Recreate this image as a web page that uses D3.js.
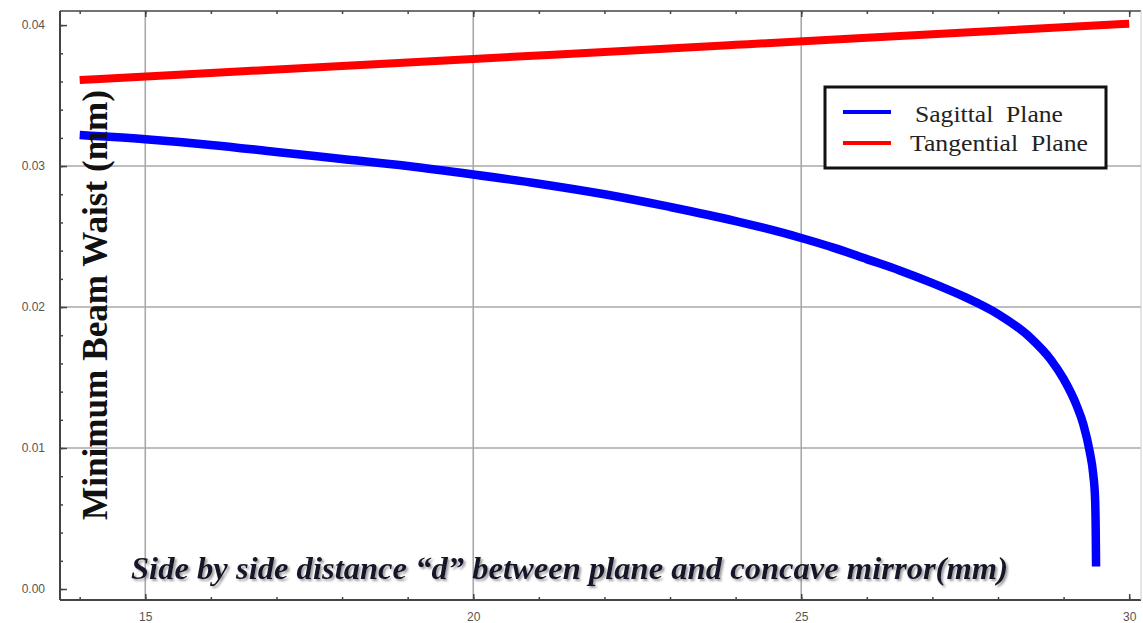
<!DOCTYPE html>
<html>
<head>
<meta charset="utf-8">
<script src="https://cdnjs.cloudflare.com/ajax/libs/d3/7.8.5/d3.min.js"></script>
<style>
  html, body { margin: 0; padding: 0; background: #fff; }
  svg { display: block; }
</style>
</head>
<body>
<svg id="chart" width="1143" height="623"></svg>
<script>
// values
const sagittalX = [14, 15, 16, 17, 18, 19, 20, 21, 22, 23, 24, 25, 25.5, 26, 26.5, 27, 27.5, 28, 28.5, 28.8, 29.0, 29.2, 29.3, 29.4, 29.45, 29.48, 29.49, 29.495]
const sagittalY = [0.0322, 0.0319, 0.0315, 0.0310, 0.0305, 0.0300, 0.0294, 0.02875, 0.0280, 0.0271, 0.0261, 0.0249, 0.0242, 0.0234, 0.0226, 0.0217, 0.0207, 0.0195, 0.0178, 0.0163, 0.0149, 0.0130, 0.0117, 0.0097, 0.0082, 0.0064, 0.0040, 0.0016]

const tangentialX = [14, 16, 18, 20, 22, 24, 26, 28, 30]
const tangentialY = [0.0361, 0.0366, 0.0371, 0.0376, 0.0381, 0.0386, 0.0391, 0.0396, 0.0401]

const xTicks = [15, 20, 25, 30]
const yTicks = [0.00, 0.01, 0.02, 0.03, 0.04]
const xGrid = [15, 20, 25]
const yGrid = [0.01, 0.02, 0.03]

const legendLabels = ['Sagittal  Plane', 'Tangential  Plane']
const seriesColors = ['#0000ff', '#ff0000']

const xTitle = 'Side by side distance \u201cd\u201d between plane and concave mirror(mm)'
const yTitle = 'Minimum Beam Waist (mm)'

const svg = d3.select('svg#chart')

const plot = { left: 60, right: 1141, top: 11, bottom: 600 }

const x = d3.scaleLinear().domain([13.70, 30.18]).range([plot.left, plot.right])
const y = d3.scaleLinear().domain([-0.00078, 0.041]).range([plot.bottom, plot.top])

const defs = svg.append('defs')
const shadow = defs.append('filter').attr('id', 'shadow')
  .attr('x', '-5%').attr('y', '-30%').attr('width', '110%').attr('height', '160%')
shadow.append('feDropShadow')
  .attr('dx', 2).attr('dy', 2).attr('stdDeviation', 1.2)
  .attr('flood-color', '#777').attr('flood-opacity', 0.7)

// grid
svg.append('g').selectAll('line').data(xGrid).enter().append('line')
  .attr('x1', d => x(d)).attr('x2', d => x(d))
  .attr('y1', plot.top).attr('y2', plot.bottom)
  .attr('stroke', '#a8a8a8').attr('stroke-width', 1.6)

svg.append('g').selectAll('line').data(yGrid).enter().append('line')
  .attr('x1', plot.left).attr('x2', plot.right)
  .attr('y1', d => y(d)).attr('y2', d => y(d))
  .attr('stroke', '#a8a8a8').attr('stroke-width', 1.6)

// axes
const xMinor = d3.range(14, 31, 1)
const yMinor = d3.range(0, 0.0401, 0.002)

const styleAxis = g => {
  g.select('.domain').remove()
  g.selectAll('line').attr('stroke', '#444').attr('stroke-width', 1.5)
  g.selectAll('text').attr('fill', '#555')
    .style('font-family', 'Liberation Sans, Arial, sans-serif').style('font-size', '12px')
}

svg.append('g').attr('transform', `translate(0,${plot.bottom})`)
  .call(d3.axisBottom(x).tickValues(xMinor).tickSize(-3).tickFormat(''))
  .call(styleAxis)
svg.append('g').attr('transform', `translate(0,${plot.bottom})`)
  .call(d3.axisBottom(x).tickValues(xTicks).tickSize(-6).tickPadding(12).tickFormat(d3.format('d')))
  .call(styleAxis)

svg.append('g').attr('transform', `translate(0,${plot.top})`)
  .call(d3.axisTop(x).tickValues(xMinor).tickSize(-3).tickFormat(''))
  .call(styleAxis)
svg.append('g').attr('transform', `translate(0,${plot.top})`)
  .call(d3.axisTop(x).tickValues(xTicks).tickSize(-6).tickFormat(''))
  .call(styleAxis)

svg.append('g').attr('transform', `translate(${plot.left},0)`)
  .call(d3.axisLeft(y).tickValues(yMinor).tickSize(-3).tickFormat(''))
  .call(styleAxis)
svg.append('g').attr('transform', `translate(${plot.left},0)`)
  .call(d3.axisLeft(y).tickValues(yTicks).tickSize(-7).tickPadding(15).tickFormat(d3.format('.2f')))
  .call(styleAxis)

// frame
svg.append('line').attr('x1', plot.left).attr('x2', plot.left).attr('y1', plot.top).attr('y2', plot.bottom)
  .attr('stroke', '#444').attr('stroke-width', 2)
svg.append('line').attr('x1', plot.left).attr('x2', plot.right).attr('y1', plot.bottom).attr('y2', plot.bottom)
  .attr('stroke', '#444').attr('stroke-width', 2)
svg.append('line').attr('x1', plot.left).attr('x2', plot.right).attr('y1', plot.top).attr('y2', plot.top)
  .attr('stroke', '#444').attr('stroke-width', 1.5)
svg.append('line').attr('x1', plot.right).attr('x2', plot.right).attr('y1', plot.top).attr('y2', plot.bottom)
  .attr('stroke', '#ccc').attr('stroke-width', 1)

// series
const line = d3.line().x(d => x(d[0])).y(d => y(d[1])).curve(d3.curveMonotoneX)

svg.append('path')
  .datum(tangentialX.map((v, i) => [v, tangentialY[i]]))
  .attr('d', line)
  .attr('fill', 'none').attr('stroke', seriesColors[1]).attr('stroke-width', 8)

svg.append('path')
  .datum(sagittalX.map((v, i) => [v, sagittalY[i]]))
  .attr('d', line)
  .attr('fill', 'none').attr('stroke', seriesColors[0]).attr('stroke-width', 8.5)

// axis titles
svg.append('text')
  .attr('transform', 'translate(107,520) rotate(-90)')
  .attr('textLength', 430).attr('lengthAdjust', 'spacingAndGlyphs')
  .style('font-family', 'Liberation Serif, Times New Roman, serif')
  .style('font-weight', 'bold').style('font-size', '35px')
  .attr('fill', '#111')
  .text(yTitle)

svg.append('text')
  .attr('x', 131).attr('y', 579)
  .attr('textLength', 877).attr('lengthAdjust', 'spacingAndGlyphs')
  .attr('filter', 'url(#shadow)')
  .style('font-family', 'Liberation Serif, Times New Roman, serif')
  .style('font-weight', 'bold').style('font-style', 'italic').style('font-size', '32px')
  .attr('fill', '#15152a')
  .text(xTitle)

// legend
const legend = svg.append('g')
legend.append('rect')
  .attr('x', 825).attr('y', 87).attr('width', 281).attr('height', 81)
  .attr('fill', '#fff').attr('stroke', '#111').attr('stroke-width', 3)

const rows = legend.selectAll('g.row').data(legendLabels).enter().append('g')
  .attr('class', 'row')
  .attr('transform', (d, i) => `translate(0,${112 + i * 31})`)

rows.append('line')
  .attr('x1', 843).attr('x2', 891).attr('y1', 0).attr('y2', 0)
  .attr('stroke', (d, i) => seriesColors[i]).attr('stroke-width', 4)

rows.append('text')
  .attr('x', (d, i) => i === 0 ? 915 : 910).attr('y', (d, i) => i === 0 ? 10 : 8)
  .attr('textLength', (d, i) => i === 0 ? 148 : 178).attr('lengthAdjust', 'spacingAndGlyphs')
  .style('white-space', 'pre')
  .style('font-family', 'Liberation Serif, Times New Roman, serif').style('font-size', '24px')
  .attr('fill', '#222')
  .text(d => d)
</script>
</body>
</html>
